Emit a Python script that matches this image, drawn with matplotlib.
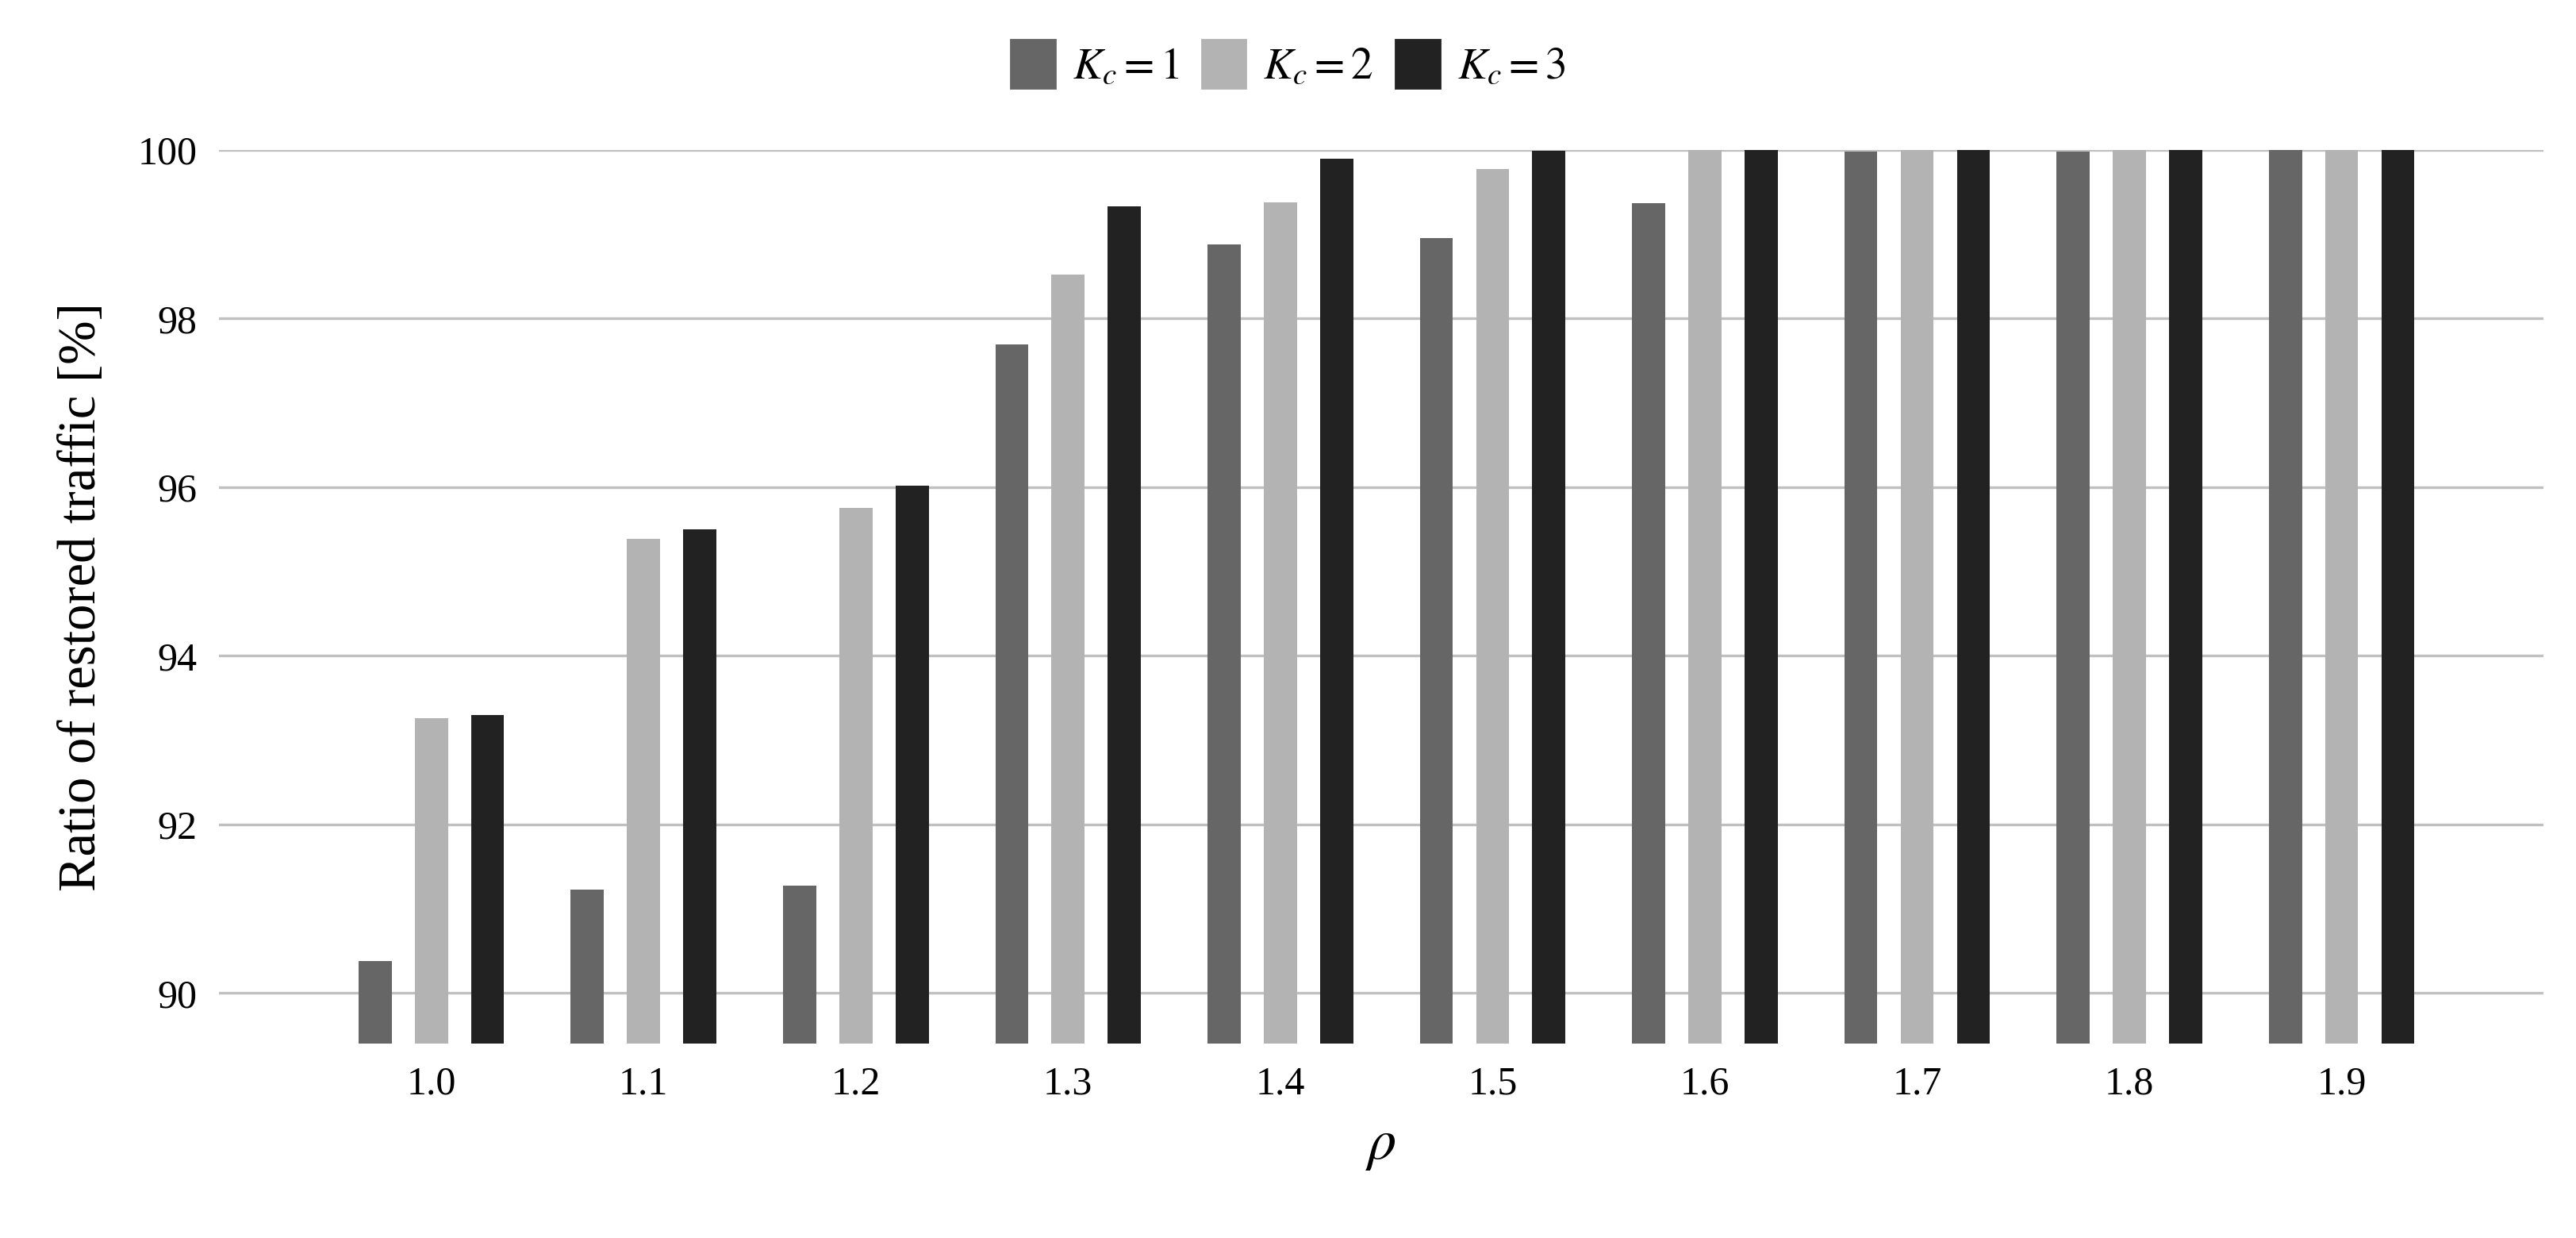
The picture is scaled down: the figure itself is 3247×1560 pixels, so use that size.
import matplotlib
matplotlib.use("Agg")
import matplotlib.pyplot as plt
import numpy as np
from matplotlib.patches import Patch

rho = ["1.0","1.1","1.2","1.3","1.4","1.5","1.6","1.7","1.8","1.9"]
k1 = [90.38, 91.23, 91.27, 97.69, 98.88, 98.95, 99.37, 99.98, 99.98, 100.0]
k2 = [93.26, 95.39, 95.75, 98.52, 99.38, 99.77, 100.0, 100.0, 100.0, 100.0]
k3 = [93.30, 95.50, 96.02, 99.33, 99.89, 99.99, 100.0, 100.0, 100.0, 100.0]
yticks = [90, 92, 94, 96, 98, 100]
colors = ["#666666", "#b3b3b3", "#222222"]
labels = [r"$K_c = 1$", r"$K_c = 2$", r"$K_c = 3$"]

plt.rcParams['font.family'] = ['Liberation Serif', 'DejaVu Serif']
plt.rcParams['mathtext.fontset'] = 'stix'

fig = plt.figure(figsize=(16.24, 7.8), dpi=200)
ax = fig.add_axes([0.085, 0.157, 0.902, 0.722])
x = np.arange(len(rho))
base = 89.4
w = 0.156
for i, (vals, c) in enumerate(zip([k1, k2, k3], colors)):
    ax.bar(x + (i - 1) * 0.265, np.array(vals) - base, w, bottom=base, color=c, zorder=3)
ax.set_xlim(-1.0, 9.95)
ax.set_ylim(base, 100.0)
ax.set_yticks(yticks)
ax.set_xticks(x)
ax.set_xticklabels(rho)
ax.tick_params(length=0, labelsize=18, pad=10)
ax.grid(axis='y', color='#c0c0c0', lw=1.2, zorder=0)
for s in ax.spines.values():
    s.set_visible(False)
ax.set_ylabel("Ratio of restored traffic [%]", fontsize=24, labelpad=14)
ax.set_xlabel(r"$\rho$", fontsize=26, labelpad=8)
handles = [Patch(color=c) for c in colors]
fig.legend(handles, labels, loc='upper center', bbox_to_anchor=(0.5, 1.0), ncol=3,
           frameon=False, fontsize=20, handlelength=1.0, handleheight=1.3,
           columnspacing=0.5, handletextpad=0.4)
fig.savefig("out.png", dpi=200)
